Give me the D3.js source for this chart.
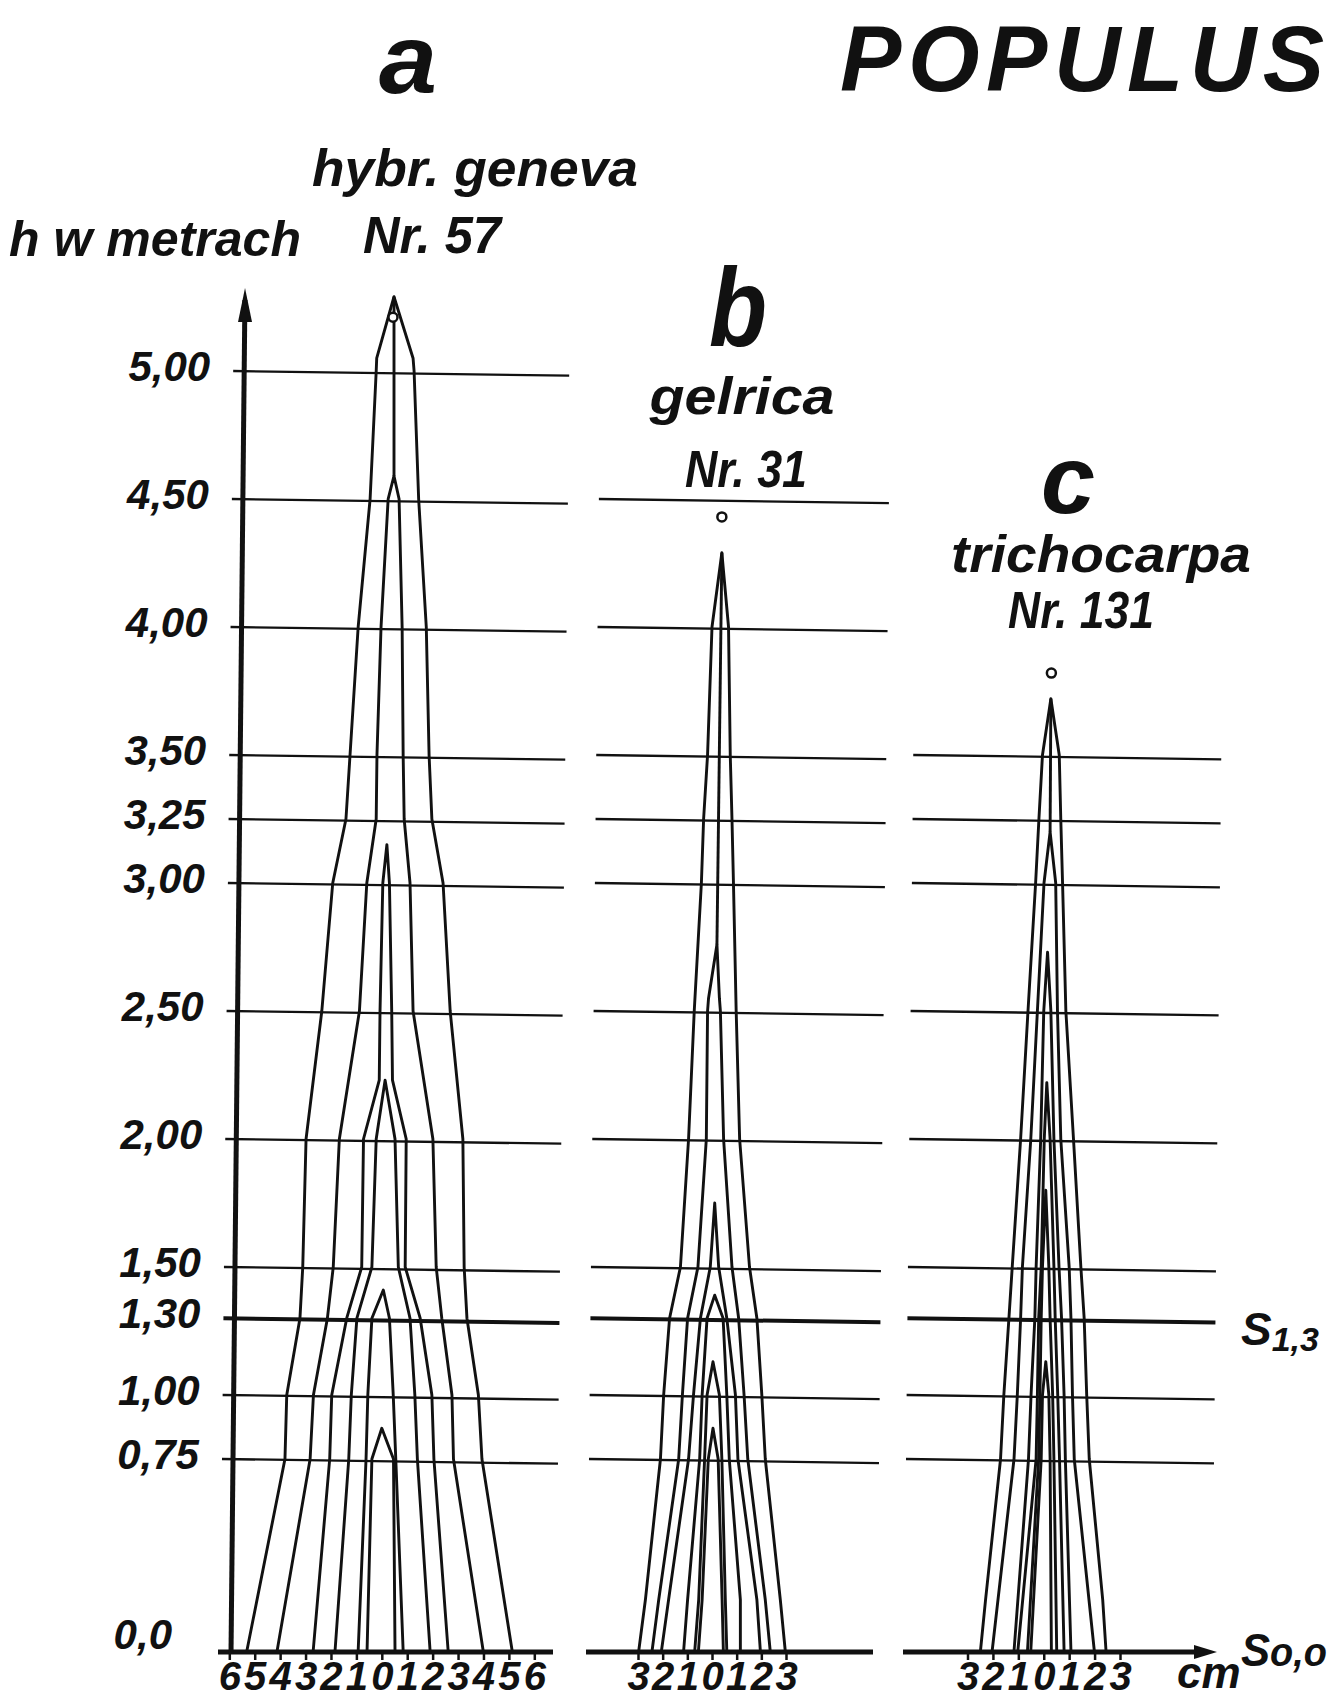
<!DOCTYPE html>
<html><head><meta charset="utf-8">
<script src="https://cdn.jsdelivr.net/npm/d3@7"></script>
<style>
html,body{margin:0;padding:0;background:#fff;}
svg{display:block;}
text{font-family:"Liberation Sans",Arial,sans-serif;font-weight:bold;font-style:italic;fill:#111;}
</style></head><body>
<svg id="chart" width="1343" height="1699"></svg>
<script>
// ---- data ----
const heightTicks  = [0, 0.75, 1, 1.3, 1.5, 2, 2.5, 3, 3.25, 3.5, 4, 4.5, 5];
const heightLabels = ["0,0","0,75","1,00","1,30","1,50","2,00","2,50","3,00","3,25","3,50","4,00","4,50","5,00"];
const gridA = [0.75, 1, 1.3, 1.5, 2, 2.5, 3, 3.25, 3.5, 4, 4.5, 5];
const gridB = [0.75, 1, 1.3, 1.5, 2, 2.5, 3, 3.25, 3.5, 4, 4.5];
const gridC = [0.75, 1, 1.3, 1.5, 2, 2.5, 3, 3.25, 3.5];
const ticksA = [-6,-5,-4,-3,-2,-1,0,1,2,3,4,5,6];
const ticksB = [-3,-2,-1,0,1,2,3];
const ticksC = [-3,-2,-1,0,1,2,3];
// stem profiles: [height m, left edge cm, right edge cm], bottom -> tip
const profilesA = [
 [[0,-5.31,5.13],[0.75,-3.81,3.94],[1,-3.74,3.80],[1.3,-3.22,3.35],[1.5,-3.11,3.24],[2,-2.98,3.19],[2.5,-2.36,2.69],[3,-1.93,2.41],[3.25,-1.41,1.97],[3.5,-1.25,1.86],[4,-0.93,1.75],[4.5,-0.46,1.45],[5,-0.22,1.27],[5.05,-0.20,1.23],[5.29,0.48,0.48]],
 [[0,-4.12,3.99],[0.75,-2.82,2.82],[1,-2.69,2.76],[1.3,-2.14,2.36],[1.5,-1.91,2.14],[2,-1.67,2.01],[2.5,-0.88,1.23],[3,-0.59,1.11],[3.25,-0.22,0.88],[3.5,-0.19,0.84],[4,-0.03,0.80],[4.5,0.25,0.68],[4.59,0.48,0.48]],
 [[0,-2.70,2.61],[0.75,-2.05,2.05],[1,-1.97,1.97],[1.3,-1.38,1.51],[1.5,-0.79,0.92],[2,-0.72,0.96],[2.23,-0.10,0.42],[2.5,-0.07,0.39],[3,0.04,0.30],[3.15,0.20,0.20]],
 [[0,-1.84,1.90],[0.75,-1.30,1.40],[1,-1.20,1.30],[1.3,-0.98,1.11],[1.5,-0.39,0.65],[2,-0.22,0.52],[2.23,0.13,0.13]],
 [[0,-0.93,0.84],[0.75,-0.62,0.55],[1,-0.55,0.45],[1.3,-0.39,0.30],[1.41,0.06,0.06]],
 [[0,-0.58,0.52],[0.75,-0.39,0.46],[0.87,0.0,0.0]]
];
const profilesB = [
 [[0,-2.97,2.97],[0.2,-2.70,2.77],[0.75,-2.09,2.16],[1,-1.96,2.02],[1.3,-1.72,1.82],[1.5,-1.28,1.52],[2,-0.95,1.12],[2.5,-0.72,0.98],[3,-0.43,0.87],[3.25,-0.34,0.81],[3.5,-0.18,0.74],[4,0.0,0.67],[4.29,0.40,0.40]],
 [[0,-2.43,2.36],[0.2,-2.16,2.16],[0.75,-1.35,1.45],[1,-1.2,1.3],[1.3,-0.99,1.08],[1.5,-0.57,0.81],[2,-0.23,0.47],[2.5,-0.18,0.34],[2.55,-0.14,0.30],[2.76,0.20,0.20]],
 [[0,-2.05,1.96],[0.2,-1.76,1.82],[0.75,-0.95,1.05],[1,-0.75,0.95],[1.3,-0.47,0.60],[1.5,-0.07,0.27],[1.75,0.11,0.11]],
 [[0,-1.15,1.15],[0.2,-0.99,1.15],[0.75,-0.5,0.7],[1,-0.4,0.6],[1.3,-0.2,0.45],[1.39,0.11,0.11]],
 [[0,-0.7,0.6],[0.2,-0.54,0.54],[0.75,-0.3,0.4],[1,-0.2,0.3],[1.13,0.04,0.04]],
 [[0,-0.55,0.46],[0.2,-0.40,0.41],[0.75,-0.15,0.25],[0.87,0.04,0.04]]
];
const profilesC = [
 [[0,-2.49,2.45],[0.2,-2.29,2.32],[0.75,-1.70,1.79],[1,-1.57,1.69],[1.3,-1.37,1.59],[1.5,-1.24,1.46],[2,-0.91,1.17],[2.5,-0.62,0.87],[3,-0.32,0.74],[3.25,-0.19,0.67],[3.5,-0.05,0.61],[3.72,0.28,0.28]],
 [[0,-2.03,1.99],[0.75,-1.17,1.20],[1,-1.04,1.13],[1.3,-0.91,1.07],[1.5,-0.84,1.0],[2,-0.51,0.67],[2.5,-0.25,0.54],[3,0.01,0.47],[3.2,0.25,0.25]],
 [[0,-1.17,1.07],[0.75,-0.6,0.85],[1,-0.5,0.8],[1.3,-0.35,0.7],[1.5,-0.3,0.6],[2,-0.12,0.40],[2.5,0.0,0.28],[2.73,0.15,0.15]],
 [[0,-1.02,0.80],[0.75,-0.3,0.62],[1,-0.25,0.55],[1.3,-0.2,0.45],[1.5,-0.1,0.4],[2,0.02,0.25],[2.22,0.12,0.12]],
 [[0,-0.64,0.51],[0.75,-0.2,0.4],[1,-0.15,0.35],[1.3,-0.1,0.25],[1.5,-0.05,0.2],[1.8,0.08,0.08]],
 [[0,-0.51,0.30],[0.75,-0.1,0.25],[1,-0.05,0.2],[1.13,0.08,0.08]]
];
// pith segment joining the two youngest tips: [height m, position cm]
const pithA = [[5.29,0.48],[4.59,0.48]];
const pithB = [[4.29,0.40],[2.76,0.20]];
const pithC = [[3.72,0.28],[3.20,0.25]];
// small circle marking the tree height: [height m, position cm]
const topA = [5.21, 0.44];
const topB = [4.43, 0.40];
const topC = [3.82, 0.30];
const panelLetters = ["a","b","c"];
const panelNames = ["hybr. geneva","gelrica","trichocarpa"];
const panelNumbers = ["Nr. 57","Nr. 31","Nr. 131"];

// ---- drawing ----
const svg = d3.select("#chart");
const ink = "#111";
const y = d3.scaleLinear().domain([0,5]).range([1651,371]);
const lean = v => 0.0103 * (y(0) - v);     // the hand-drawn sheet leans slightly to the right
const slope = 0.014;                        // gridlines drop slightly to the right

const panels = [
  {x: d3.scaleLinear().domain([-6,6]).range([229.3,534.3]), prof: profilesA, pith: pithA, top: topA, grid: gridA, gx:[220,556], ax:[218,553], ticks: ticksA},
  {x: d3.scaleLinear().domain([-3,3]).range([638,786]),   prof: profilesB, pith: pithB, top: topB, grid: gridB, gx:[587,877], ax:[586,873], ticks: ticksB},
  {x: d3.scaleLinear().domain([-3,3]).range([967.5,1120]), prof: profilesC, pith: pithC, top: topC, grid: gridC, gx:[904,1212], ax:[903,1200], ticks: ticksC}
];

panels.forEach((p,i) => {
  const g = svg.append("g");
  // gridlines
  g.selectAll("line.grid").data(p.grid).join("line")
    .attr("x1", d => p.gx[0] + lean(y(d))).attr("x2", d => p.gx[1] + lean(y(d)))
    .attr("y1", d => y(d)).attr("y2", d => y(d) + slope*(p.gx[1]-p.gx[0]))
    .attr("stroke", ink).attr("stroke-width", d => d===1.3 ? 4 : 2.3);
  // profiles
  const line = d3.line().x(d=>p.x(d[1])).y(d=>y(d[0]));
  g.selectAll("path.prof").data(p.prof).join("path")
    .attr("d", pr => {
      const left = pr.map(d=>[d[0], d[1]]);
      const right = pr.slice(0,-1).reverse().map(d=>[d[0], d[2]]);
      return line(left.concat(right));
    })
    .attr("fill","none").attr("stroke",ink).attr("stroke-width",2.9).attr("stroke-linejoin","round");
  g.append("path").attr("d", line(p.pith))
    .attr("fill","none").attr("stroke",ink).attr("stroke-width",2.9);
  g.append("circle").attr("cx", p.x(p.top[1])).attr("cy", y(p.top[0])).attr("r",4.5)
    .attr("fill","#fff").attr("stroke",ink).attr("stroke-width",2.5);
  // bottom axis line
  g.append("line").attr("x1",p.ax[0]).attr("x2",p.ax[1]).attr("y1",y(0)+1).attr("y2",y(0)+1)
    .attr("stroke",ink).attr("stroke-width",5);
  const axis = d3.axisBottom(p.x).tickValues(p.ticks).tickFormat(d=>Math.abs(d)).tickSize(8).tickPadding(0);
  const ag = g.append("g").attr("transform",`translate(0,${y(0)+1})`).call(axis);
  ag.select(".domain").remove();
  ag.selectAll(".tick line").attr("stroke",ink).attr("stroke-width",2.5);
  ag.selectAll(".tick text").attr("y",38).attr("dy",0)
    .attr("font-size",40).style("fill",ink)
    .attr("font-family","Liberation Sans").attr("font-weight","bold").attr("font-style","italic");
});

// arrow on panel c axis
svg.append("path").attr("d", d3.line()([[1194,1645],[1217,1652],[1194,1659]])).attr("fill",ink);

// y axis with arrow (leaning like the sheet)
const yTop = 300;
svg.append("line").attr("x1",231).attr("x2",231+lean(yTop)).attr("y1",y(0)+3).attr("y2",yTop)
  .attr("stroke",ink).attr("stroke-width",5);
{
  const tx = 231 + lean(290);
  svg.append("path").attr("d", d3.line()([[tx-7,322],[tx,288],[tx+7,322]])).attr("fill",ink);
}

// height labels
svg.selectAll("text.hl").data(heightTicks).join("text")
  .attr("x", d => d===0 ? 172 : 197 + lean(y(d)))
  .attr("y", d => d===0 ? y(0)-2 : y(d)+10)
  .attr("text-anchor","end").attr("font-size",42)
  .text((d,i)=>heightLabels[i]);

// titles
const T = (x,yy,size,str,anchor,len,adj) => {
  const t = svg.append("text").attr("x",x).attr("y",yy).attr("font-size",size)
    .attr("text-anchor",anchor||"start").text(str);
  if (len) t.attr("textLength",len).attr("lengthAdjust",adj||"spacingAndGlyphs");
  return t;
};
T(840, 91, 92, "POPULUS", "start", 484, "spacing");
T(408, 93, 98, panelLetters[0], "middle", 58);
T(312, 186, 52, panelNames[0], "start", 326);
T(432, 253, 52, panelNumbers[0], "middle", 138);
T(9, 256, 50, "h w metrach", "start", 292);
T(738, 346, 112, panelLetters[1], "middle", 58);
T(742, 414, 52, panelNames[1], "middle", 185);
T(746, 487, 52, panelNumbers[1], "middle", 122);
T(1068, 513, 96, panelLetters[2], "middle", 54);
T(1101, 572, 52, panelNames[2], "middle", 300);
T(1081, 628, 52, panelNumbers[2], "middle", 146);
// S 1,3 and S 0,0 marks
const s13 = svg.append("text").attr("x",1241).attr("y",1345).attr("font-size",46);
s13.append("tspan").text("S");
s13.append("tspan").attr("font-size",34).attr("dy",6).text("1,3");
const s00 = svg.append("text").attr("x",1241).attr("y",1666).attr("font-size",46);
s00.append("tspan").text("S");
s00.append("tspan").attr("font-size",40).text("o,o");
s00.attr("textLength",86).attr("lengthAdjust","spacingAndGlyphs");
T(1177, 1688, 44, "cm", "start");
</script>
</body></html>
